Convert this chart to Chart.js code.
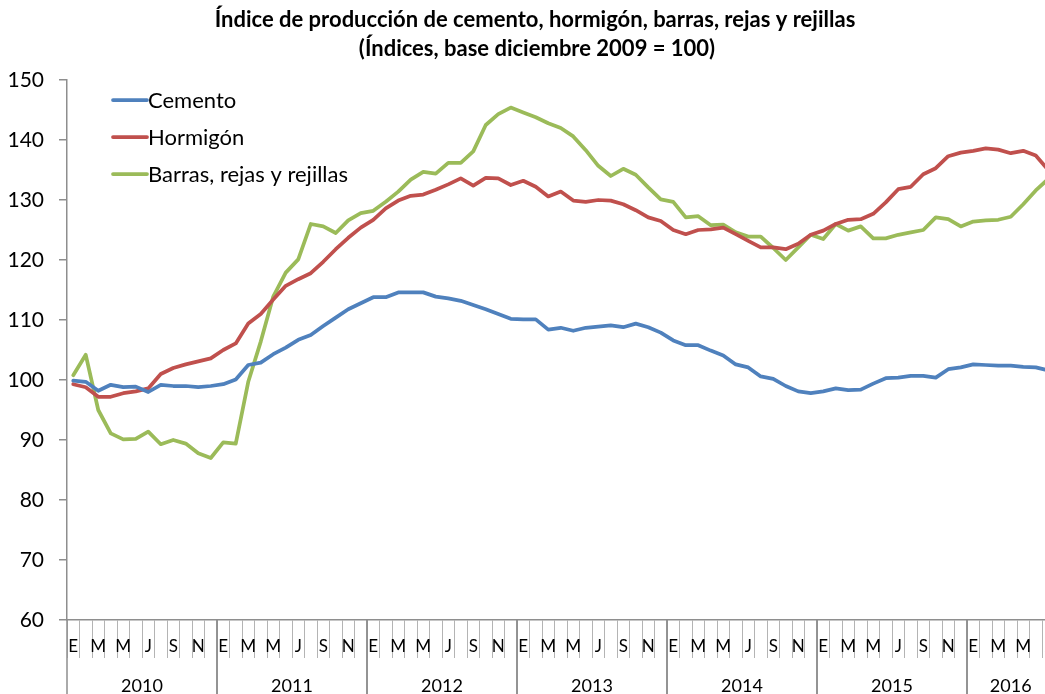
<!DOCTYPE html>
<html lang="es">
<head>
<meta charset="UTF-8">
<title>Índice de producción de cemento, hormigón, barras, rejas y rejillas</title>
<script src="https://cdn.jsdelivr.net/npm/chart.js"></script>
<style>
    html, body { margin: 0; padding: 0; background: #fff; overflow: hidden; }
    #wrap { width: 1060px; height: 694px; }
</style>
</head>
<body>
<div id="wrap">
    <canvas id="grafico" width="1060" height="694"></canvas>
</div>

<script>
    // Datos: meses de enero 2010 a julio 2016
    const anios = ['2010', '2011', '2012', '2013', '2014', '2015', '2016'];
    const letrasMes = ['E', 'F', 'M', 'A', 'M', 'J', 'J', 'A', 'S', 'O', 'N', 'D'];

    const cemento = [
        99.9, 99.7, 98.2, 99.2, 98.8, 98.9, 98.0, 99.2, 99.0, 99.0, 98.8, 99.0,
        99.3, 100.1, 102.5, 102.9, 104.3, 105.4, 106.7, 107.5, 109.0, 110.4, 111.8, 112.8,
        113.8, 113.8, 114.6, 114.6, 114.6, 113.9, 113.6, 113.2, 112.5, 111.8, 111.0, 110.2,
        110.1, 110.1, 108.4, 108.7, 108.2, 108.7, 108.9, 109.1, 108.8, 109.4, 108.8, 107.9,
        106.6, 105.8, 105.8, 104.9, 104.1, 102.6, 102.1, 100.6, 100.2, 99.0, 98.1, 97.8,
        98.1, 98.6, 98.3, 98.4, 99.4, 100.3, 100.4, 100.7, 100.7, 100.4, 101.8, 102.1,
        102.6, 102.5, 102.4, 102.4, 102.2, 102.1, 101.6
    ];
    const hormigon = [
        99.3, 98.8, 97.2, 97.2, 97.8, 98.1, 98.6, 101.0, 102.0, 102.6, 103.1, 103.6,
        105.0, 106.1, 109.4, 111.0, 113.4, 115.7, 116.8, 117.8, 119.7, 121.8, 123.7, 125.4,
        126.7, 128.6, 129.9, 130.7, 130.9, 131.7, 132.6, 133.6, 132.4, 133.7, 133.6, 132.5,
        133.2, 132.2, 130.6, 131.4, 129.9, 129.7, 130.0, 129.9, 129.3, 128.3, 127.1, 126.5,
        125.0, 124.3, 125.0, 125.1, 125.4, 124.3, 123.2, 122.1, 122.1, 121.8, 122.7, 124.2,
        124.9, 126.0, 126.7, 126.8, 127.7, 129.6, 131.8, 132.2, 134.3, 135.3, 137.3, 137.9,
        138.2, 138.6, 138.4, 137.8, 138.2, 137.4, 135.0
    ];
    const barras = [
        100.8, 104.2, 95.0, 91.1, 90.1, 90.2, 91.4, 89.3, 90.0, 89.4, 87.8, 87.0,
        89.6, 89.4, 99.7, 106.4, 113.9, 117.9, 120.1, 126.0, 125.6, 124.5, 126.6, 127.8,
        128.2, 129.7, 131.4, 133.4, 134.7, 134.4, 136.2, 136.2, 138.1, 142.5, 144.3, 145.4,
        144.6, 143.8, 142.8, 142.0, 140.6, 138.3, 135.7, 134.0, 135.2, 134.2, 132.1, 130.1,
        129.7, 127.1, 127.3, 125.8, 125.9, 124.6, 123.9, 123.9, 122.0, 120.0, 122.1, 124.2,
        123.5, 126.0, 124.9, 125.6, 123.6, 123.6, 124.2, 124.6, 125.0, 127.1, 126.8, 125.6,
        126.4, 126.6, 126.7, 127.2, 129.3, 131.6, 133.5
    ];

    const etiquetas = [];
    for (let i = 0; i < cemento.length; i++) {
        etiquetas.push(letrasMes[i % 12]);
    }

    const fuente = 'Lato, "Open Sans", sans-serif';
    const gris = '#8e8e8e';

    // Titulo en dos lineas
    const titulo = {
        id: 'titulo',
        afterDraw(chart) {
            const c = chart.ctx;
            c.save();
            c.fillStyle = '#000';
            c.textAlign = 'center';
            c.textBaseline = 'alphabetic';
            c.font = 'bold 22px ' + fuente;
            c.fillText('Índice de producción de cemento, hormigón, barras, rejas y rejillas', 535, 27);
            c.fillText('(Índices, base diciembre 2009 = 100)', 537, 56);
            c.restore();
        }
    };

    // Leyenda dentro del area del grafico
    const leyenda = {
        id: 'leyenda',
        afterDraw(chart) {
            const c = chart.ctx;
            const area = chart.chartArea;
            c.save();
            c.font = '22px ' + fuente;
            c.textBaseline = 'middle';
            c.textAlign = 'left';
            chart.data.datasets.forEach((ds, i) => {
                const y = area.top + 20 + i * 37;
                const x0 = area.left + 46;
                c.strokeStyle = ds.borderColor;
                c.lineWidth = ds.borderWidth;
                c.lineCap = 'round';
                c.beginPath();
                c.moveTo(x0, y);
                c.lineTo(x0 + 34, y);
                c.stroke();
                c.fillStyle = '#000';
                c.fillText(ds.label, x0 + 35, y + 1);
            });
            c.restore();
        }
    };

    // Segundo nivel del eje x: años
    const ejeAnios = {
        id: 'ejeAnios',
        afterDraw(chart) {
            const c = chart.ctx;
            const x = chart.scales.x;
            const n = chart.data.labels.length;
            const medio = (x.getPixelForValue(1) - x.getPixelForValue(0)) / 2;
            c.save();
            c.strokeStyle = gris;
            c.lineWidth = 1.5;
            c.fillStyle = '#000';
            c.font = '18px ' + fuente;
            c.textAlign = 'center';
            c.textBaseline = 'middle';
            anios.forEach((a, k) => {
                const ini = k * 12;
                const fin = Math.min(ini + 11, n - 1);
                const x1 = x.getPixelForValue(ini) - medio;
                const x2 = x.getPixelForValue(fin) + medio;
                c.beginPath();
                c.moveTo(x1, x.top);
                c.lineTo(x1, chart.height);
                c.moveTo(x2, x.top);
                c.lineTo(x2, chart.height);
                c.stroke();
                c.fillText(a, (x1 + x2) / 2, x.top + 66);
            });
            c.restore();
        }
    };

    new Chart(document.getElementById('grafico'), {
        type: 'line',
        data: {
            labels: etiquetas,
            datasets: [
                { label: 'Cemento', data: cemento, borderColor: '#4F81BD' },
                { label: 'Hormigón', data: hormigon, borderColor: '#C0504D' },
                { label: 'Barras, rejas y rejillas', data: barras, borderColor: '#9BBB59' }
            ].map(d => Object.assign(d, {
                borderWidth: 3.75,
                pointRadius: 0,
                tension: 0,
                fill: false,
                borderJoinStyle: 'round',
                borderCapStyle: 'round'
            }))
        },
        options: {
            responsive: false,
            animation: false,
            layout: { padding: { top: 80, right: 5.5, left: 0, bottom: 0 } },
            plugins: {
                legend: { display: false },
                title: { display: false },
                tooltip: { enabled: false }
            },
            scales: {
                x: {
                    offset: true,
                    afterFit(s) { s.height = 74; },
                    border: { color: gris, width: 1.5 },
                    grid: {
                        offset: true,
                        drawOnChartArea: false,
                        tickLength: 38,
                        color: '#b4b4b4',
                        lineWidth: 1
                    },
                    ticks: {
                        autoSkip: false,
                        maxRotation: 0,
                        padding: -22,
                        color: '#000',
                        font: { family: fuente, size: 17 },
                        callback(v, i) { return i % 2 === 0 ? this.getLabelForValue(v) : ''; }
                    }
                },
                y: {
                    min: 60,
                    max: 150,
                    afterFit(s) { s.width = 67; },
                    border: { color: gris, width: 1.5 },
                    grid: { drawOnChartArea: false, tickLength: 8, color: gris, lineWidth: 1.5 },
                    ticks: {
                        stepSize: 10,
                        padding: 15,
                        color: '#000',
                        font: { family: fuente, size: 21 }
                    }
                }
            }
        },
        plugins: [titulo, leyenda, ejeAnios]
    });
</script>
</body>
</html>
